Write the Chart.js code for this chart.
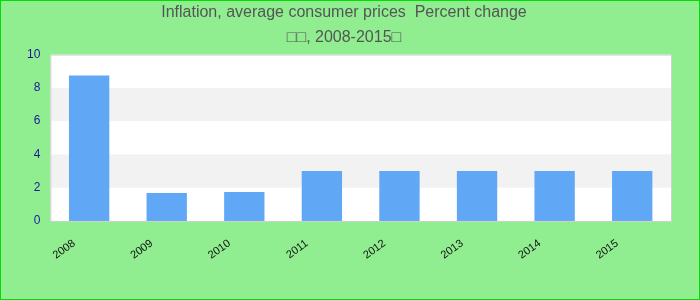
<!DOCTYPE html>
<html>
<head>
<meta charset="utf-8">
<script src="https://cdn.jsdelivr.net/npm/chart.js@4"></script>
<style>
  html, body { margin: 0; padding: 0; background: #90ee90; }
  #wrap { width: 700px; height: 300px; position: relative; }
</style>
</head>
<body>
<div id="wrap"><canvas id="grafico"></canvas></div>
<script>
// Datos
const anios = ['2008', '2009', '2010', '2011', '2012', '2013', '2014', '2015'];
const inflacion = [8.75, 1.68, 1.74, 3.0, 3.0, 3.0, 3.0, 3.0];
const ticksY = [0, 2, 4, 6, 8, 10];
const titulo = ['Inflation, average consumer prices  Percent change', '□□, 2008-2015□'];

// Fondo verde, marco y bandas alternas del área de trazado
const fondoPlugin = {
    id: 'fondo',
    beforeDraw(chart) {
        const { ctx, chartArea: a, scales } = chart;
        ctx.save();
        ctx.fillStyle = '#90ee90';
        ctx.fillRect(0, 0, chart.width, chart.height);
        ctx.fillStyle = '#ffffff';
        ctx.fillRect(a.left, a.top, a.right - a.left, a.bottom - a.top);
        ctx.fillStyle = '#f2f2f2';
        for (let i = 1; i < ticksY.length - 1; i += 2) {
            const y1 = scales.y.getPixelForValue(ticksY[i]);
            const y2 = scales.y.getPixelForValue(ticksY[i + 1]);
            ctx.fillRect(a.left, y2, a.right - a.left, y1 - y2);
        }
        ctx.restore();
    },
    afterDraw(chart) {
        const { ctx, chartArea: a } = chart;
        ctx.save();
        ctx.strokeStyle = '#d0d0d0';
        ctx.lineWidth = 1;
        ctx.strokeRect(a.left + 0.5, a.top + 0.5, a.right - a.left, a.bottom - a.top);
        ctx.strokeStyle = '#00e000';
        ctx.strokeRect(0.5, 0.5, chart.width - 1, chart.height - 1);
        ctx.restore();
    }
};

Chart.defaults.font.family = "'Liberation Sans', Arial, sans-serif";

new Chart(document.getElementById('grafico'), {
    type: 'bar',
    data: {
        labels: anios,
        datasets: [{
            data: inflacion,
            backgroundColor: '#60a8f5',
            barPercentage: 0.52,
            categoryPercentage: 1.0
        }]
    },
    options: {
        responsive: true,
        maintainAspectRatio: false,
        animation: false,
        layout: { padding: { left: 17, right: 29, top: 0, bottom: 22 } },
        scales: {
            x: {
                grid: { display: false, drawTicks: false },
                border: { display: false },
                ticks: {
                    color: '#111',
                    font: { size: 11 },
                    minRotation: 36,
                    maxRotation: 36,
                    labelOffset: -15,
                    padding: 16
                }
            },
            y: {
                min: 0,
                max: 10,
                grid: { display: false, drawTicks: false },
                border: { display: false },
                afterBuildTicks: (s) => { s.ticks = ticksY.map(v => ({ value: v })); },
                ticks: {
                    color: '#1a1a99',
                    font: { size: 12 },
                    padding: 10
                }
            }
        },
        plugins: {
            legend: { display: false },
            tooltip: { enabled: false },
            title: {
                display: true,
                text: titulo,
                color: '#555555',
                font: { size: 16, weight: 'normal', lineHeight: 1.55 },
                padding: { top: 0, bottom: 5 }
            }
        }
    },
    plugins: [fondoPlugin]
});
</script>
</body>
</html>
